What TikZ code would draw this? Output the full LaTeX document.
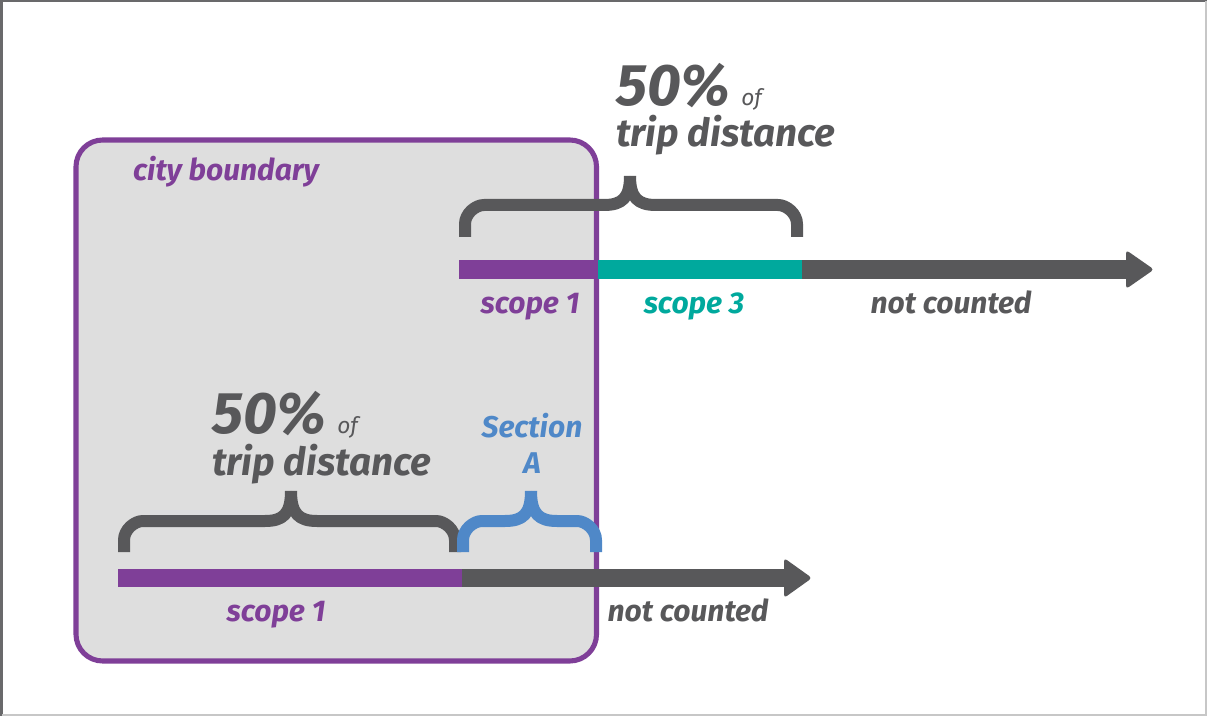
\documentclass[tikz,border=0pt]{standalone}
\usepackage{fontspec}
\setmainfont{Fira Sans}
\definecolor{cbpurple}{HTML}{7F3F98}
\definecolor{cbteal}{HTML}{00A99D}
\definecolor{cbgray}{HTML}{58585A}
\definecolor{cbblue}{HTML}{4F88C8}
\definecolor{cbfill}{HTML}{DEDEDE}
% curly brace opening downwards: style, left x, right x, middle x, foot y, bar y, tip y
\newcommand\cbrace[7]{%
  \draw[#1] (#2,#5) -- (#2,{#6+19}) .. controls (#2,{#6+8.5}) and ({#2+10.5},#6) .. ({#2+19},#6)
    -- ({#4-26},#6) .. controls ({#4-8},#6) and (#4,{#6-7}) .. (#4,#7);
  \draw[#1] (#3,#5) -- (#3,{#6+19}) .. controls (#3,{#6+8.5}) and ({#3-10.5},#6) .. ({#3-19},#6)
    -- ({#4+26},#6) .. controls ({#4+8},#6) and (#4,{#6-7}) .. (#4,#7);
}
\newcommand\pcttext{{\fontsize{44}{46}\selectfont 50\%}\hspace{8pt}{\mdseries\fontsize{17}{20}\selectfont o\smash{f}}}
\begin{document}
\begin{tikzpicture}[x=0.75pt,y=-0.75pt,
  lab/.style={font=\bfseries\itshape\fontsize{22.5}{26}\selectfont, inner sep=0pt, anchor=base},
  big/.style={font=\bfseries\itshape\fontsize{29}{33}\selectfont, inner sep=0pt, anchor=base west, text=cbgray},
  brace/.style={line width=9pt, line cap=butt, line join=round},
  bar/.style={line width=14pt, line cap=butt},
  head/.style={fill=cbgray, rounded corners=2.5pt}]
\useasboundingbox (0,0) rectangle (1207,716);
\fill[white] (0,0) rectangle (1207,716);
% image frame
\draw[cbgray!90, line width=1.5pt] (1.5,716) -- (1.5,1.5) -- (1207,1.5);
\draw[black!22, line width=1.5pt] (1206,1.5) -- (1206,714.5) -- (1.5,714.5);

% city boundary
\draw[cbpurple, fill=cbfill, line width=3.8pt, rounded corners=20pt] (76,140) rectangle (596.5,661);
\node[lab, text=cbpurple] (city) at (226,181) {city boundary};

% upper trip
\coordinate (a0) at (459,269.5);
\coordinate (a1) at (598,269.5);
\coordinate (a2) at (802,269.5);
\coordinate (a3) at (1127,269.5);
\draw[bar, cbpurple] (a0) -- (a1);
\draw[bar, cbteal] (a1) -- (a2);
\draw[bar, cbgray] (a2) -- (a3);
\fill[head] (1126,269.5) -- (1126,250) -- (1154,269.5) -- (1126,289) -- cycle;
\cbrace{brace, cbgray}{465}{797}{630}{237}{205}{176}
\node[big] (pctA) at (616,106) {\pcttext};
\node[big] (tripA) at (616,147) {trip distance};
\node[lab, text=cbpurple] (s1A) at (530,314) {scope 1};
\node[lab, text=cbteal] (s3A) at (694,314) {scope 3};
\node[lab, text=cbgray] (ncA) at (951,314) {not counted};

% lower trip
\coordinate (b0) at (118,578);
\coordinate (b1) at (462,578);
\coordinate (b2) at (785,578);
\draw[bar, cbpurple] (b0) -- (b1);
\draw[bar, cbgray] (b1) -- (b2);
\fill[head] (784,578) -- (784,558) -- (812,578) -- (784,598) -- cycle;
\cbrace{brace, cbgray}{124}{455}{291}{552}{521}{491}
\cbrace{brace, cbblue}{463}{596}{531}{552}{521}{491}
\node[big] (pctB) at (212,434) {\pcttext};
\node[big] (tripB) at (212,475) {trip distance};
\node[lab, text=cbblue] (secA) at (532,438) {Section};
\node[lab, text=cbblue] (secB) at (532,474) {A};
\node[lab, text=cbpurple] (s1B) at (276,621) {scope 1};
\node[lab, text=cbgray] (ncB) at (688,621) {not counted};
\end{tikzpicture}
\end{document}
